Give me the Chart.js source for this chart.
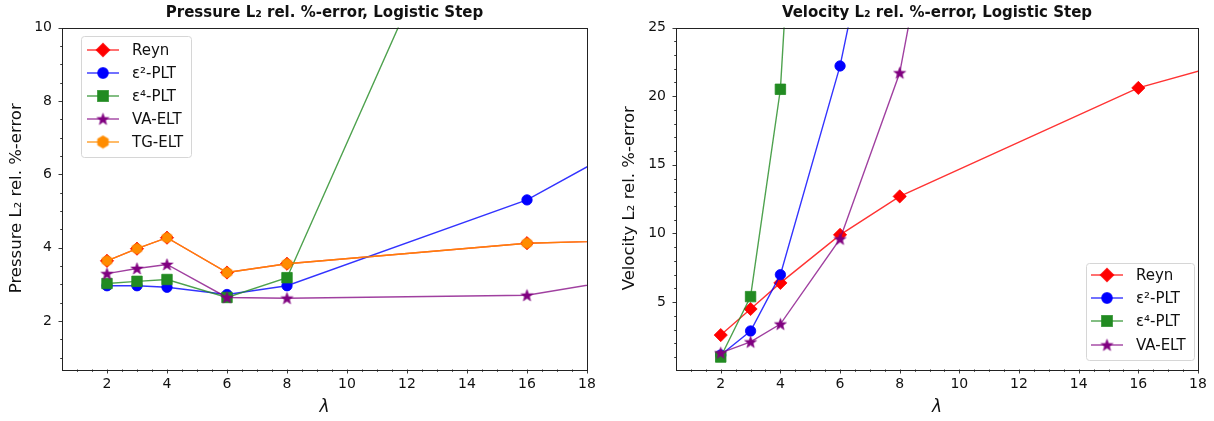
<!DOCTYPE html>
<html><head><meta charset="utf-8">
<script src="https://cdn.jsdelivr.net/npm/chart.js@4.4.0/dist/chart.umd.min.js"></script>
<style>
html,body{margin:0;padding:0;background:#fff;overflow:hidden;width:1214px;height:421px}
#cl{position:absolute;left:0;top:0}
#cr{position:absolute;left:600px;top:0}
</style></head><body>
<canvas id="cl" width="600" height="421"></canvas>
<canvas id="cr" width="614" height="421"></canvas>
<script>
// ---------- data ----------
const xTickLabels = [2, 4, 6, 8, 10, 12, 14, 16, 18];
const pYTicks = [2, 4, 6, 8, 10];
const vYTicks = [5, 10, 15, 20, 25];

// Pressure (left)
const pLamReyn = [2, 3, 4, 6, 8, 16, 32];
const pReyn    = [3.64, 3.97, 4.27, 3.32, 3.56, 4.12, 4.47];
const pLamE2   = [2, 3, 4, 6, 8, 16, 32];
const pE2      = [2.96, 2.96, 2.92, 2.72, 2.96, 5.30, 12.5];
const pLamE4   = [2, 3, 4, 6, 8, 16];
const pE4      = [3.02, 3.08, 3.13, 2.64, 3.18, 17.9];
const pLamVA   = [2, 3, 4, 6, 8, 16, 32];
const pVA      = [3.29, 3.43, 3.54, 2.64, 2.62, 2.70, 4.87];
const pLamTG   = [2, 3, 4, 6, 8, 16, 32];
const pTG      = [3.64, 3.97, 4.27, 3.32, 3.56, 4.12, 4.47];

// Velocity (right)
const vLamReyn = [2, 3, 4, 6, 8, 16, 32];
const vReyn    = [2.6, 4.5, 6.4, 9.9, 12.7, 20.6, 30.3];
const vLamE2   = [2, 3, 4, 6, 8];
const vE2      = [1.15, 2.9, 7.0, 22.2, 43.1];
const vLamE4   = [2, 3, 4, 6];
const vE4      = [1.0, 5.4, 20.5, 94];
const vLamVA   = [2, 3, 4, 6, 8, 16];
const vVA      = [1.3, 2.1, 3.4, 9.6, 21.7, 114];

// ---------- styling helpers ----------
const FONT = 'DejaVu Sans';
const C = {
  red:    {line: 'rgba(255,0,0,0.8)',    fill: '#ff0000'},
  blue:   {line: 'rgba(0,0,255,0.8)',    fill: '#0000ff'},
  green:  {line: 'rgba(34,139,34,0.8)',  fill: '#228b22'},
  purple: {line: 'rgba(128,0,128,0.75)', fill: '#800080'},
  orange: {line: 'rgba(255,140,0,0.85)', fill: '#ff8c00'}
};

function makeStar(fill, stroke) {
  const s = 15, c = document.createElement('canvas');
  c.width = s; c.height = s;
  const g = c.getContext('2d');
  const R = 6.3, r = 2.6, cx = s / 2, cy = s / 2 + 0.5;
  g.beginPath();
  for (let i = 0; i < 10; i++) {
    const rad = (i % 2 === 0) ? R : r;
    const a = -Math.PI / 2 + i * Math.PI / 5;
    const px = cx + rad * Math.cos(a), py = cy + rad * Math.sin(a);
    i === 0 ? g.moveTo(px, py) : g.lineTo(px, py);
  }
  g.closePath();
  g.fillStyle = fill; g.fill();
  g.strokeStyle = stroke; g.lineWidth = 0.8; g.stroke();
  return c;
}
function makeHex(fill, stroke, R) {
  const s = 15, c = document.createElement('canvas');
  c.width = s; c.height = s;
  const g = c.getContext('2d');
  const cx = s / 2, cy = s / 2;
  g.beginPath();
  for (let i = 0; i < 6; i++) {
    const a = -Math.PI / 2 + i * Math.PI / 3;
    const px = cx + R * Math.cos(a), py = cy + R * Math.sin(a);
    i === 0 ? g.moveTo(px, py) : g.lineTo(px, py);
  }
  g.closePath();
  g.fillStyle = fill; g.fill();
  g.strokeStyle = stroke; g.lineWidth = 0.8; g.stroke();
  return c;
}
const starImg = makeStar(C.purple.fill, C.purple.line);
const hexImg = makeHex(C.orange.fill, C.orange.line, 5.6);
const hexLegendImg = makeHex(C.orange.fill, C.orange.line, 6.2);

const M = {
  reyn: {style: 'rectRot', radius: 6.6, col: C.red},
  e2:   {style: 'circle',  radius: 5.2, col: C.blue},
  e4:   {style: 'rect',    radius: 7.4, col: C.green},
  va:   {style: starImg,   radius: 6,   col: C.purple},
  tg:   {style: hexImg,    radius: 6,   col: C.orange}
};
const tgLegend = {style: hexLegendImg, radius: 6, col: C.orange};

function pts(xs, ys) { return xs.map((x, i) => ({x: x, y: ys[i]})); }
function ds(label, xs, ys, m, order) {
  return {
    label: label, data: pts(xs, ys), order: order,
    borderColor: m.col.line, borderWidth: 1.4,
    pointStyle: m.style, pointRadius: m.radius, pointHoverRadius: m.radius,
    pointBackgroundColor: m.col.fill, pointBorderColor: m.col.line, pointBorderWidth: 1,
    backgroundColor: m.col.fill, fill: false, tension: 0, clip: 0
  };
}

function legendPlugin(items, box, rows, lineX0, lineX1, textX) {
  return {
    id: 'customLegend',
    afterDatasetsDraw(chart) {
      const ctx = chart.ctx;
      ctx.save();
      const r = 3;
      ctx.beginPath();
      ctx.roundRect(box.x + 0.5, box.y + 0.5, box.w, box.h, r);
      ctx.fillStyle = 'rgba(255,255,255,0.85)';
      ctx.fill();
      ctx.strokeStyle = '#d6d6d6';
      ctx.lineWidth = 1;
      ctx.stroke();
      items.forEach((it, i) => {
        const y = rows[i];
        ctx.beginPath();
        ctx.moveTo(lineX0, y); ctx.lineTo(lineX1, y);
        ctx.strokeStyle = it.m.col.line; ctx.lineWidth = 1.4; ctx.stroke();
        ctx.fillStyle = it.m.col.fill; ctx.strokeStyle = it.m.col.line;
        Chart.helpers.drawPoint(ctx, {pointStyle: it.m.style, radius: it.m.radius, rotation: 0, borderWidth: 1}, (lineX0 + lineX1) / 2, y);
        ctx.fillStyle = '#111';
        ctx.font = '15px "' + FONT + '"';
        ctx.textBaseline = 'middle';
        ctx.textAlign = 'left';
        ctx.fillText(it.label, textX, y + 1);
      });
      ctx.restore();
    }
  };
}

function framePlugin(yMajors, yMinorStep, yMinorStart, yMax) {
  return {
    id: 'frameTicks',
    afterDraw(chart) {
      const {ctx, chartArea: a, scales: {x, y}} = chart;
      ctx.save();
      ctx.strokeStyle = '#222';
      ctx.lineWidth = 1;
      ctx.strokeRect(Math.round(a.left) + 0.5, Math.round(a.top) + 0.5,
                     Math.round(a.right - a.left), Math.round(a.bottom - a.top));
      ctx.lineWidth = 0.9;
      ctx.beginPath();
      const bY = Math.round(a.bottom) + 0.5, lX = Math.round(a.left) + 0.5;
      for (let v = 1; v <= 18.001; v += 0.5) {
        const px = Math.round(x.getPixelForValue(v)) + 0.5;
        const major = xTickLabels.includes(v);
        ctx.moveTo(px, bY); ctx.lineTo(px, bY + (major ? 4 : 2.3));
      }
      for (let v = yMinorStart; v <= yMax + 1e-6; v += yMinorStep) {
        const py = Math.round(y.getPixelForValue(v)) + 0.5;
        const major = yMajors.some(t => Math.abs(t - v) < 1e-6);
        ctx.moveTo(lX, py); ctx.lineTo(lX - (major ? 4 : 2.3), py);
      }
      ctx.stroke();
      ctx.restore();
    }
  };
}

function makeChart(id, cfg) {
  return new Chart(document.getElementById(id), {
    type: 'line',
    data: {datasets: cfg.datasets},
    options: {
      responsive: false, animation: false, events: [],
      layout: {padding: {left: 0, right: cfg.padRight, top: 0, bottom: 0}},
      plugins: {
        legend: {display: false}, tooltip: {enabled: false},
        title: {
          display: true, text: cfg.title, fullSize: false, color: '#111',
          font: {family: FONT, size: 15, weight: 'bold'},
          padding: {top: 4.5, bottom: 5}
        }
      },
      scales: {
        x: {
          type: 'linear', min: 0.5, max: 18,
          afterBuildTicks: s => { s.ticks = xTickLabels.map(v => ({value: v})); },
          afterFit: s => { s.height = 52; },
          grid: {display: false, drawTicks: true, tickLength: 4},
          border: {display: false},
          ticks: {color: '#111', font: {family: FONT, size: 14}, padding: 3, autoSkip: false, maxRotation: 0},
          title: {display: true, text: 'λ', color: '#111', font: {family: FONT, size: 17, style: 'italic'}, padding: {top: 0, bottom: 3}}
        },
        y: {
          type: 'linear', min: cfg.yMin, max: cfg.yMax,
          afterBuildTicks: s => { s.ticks = cfg.yTicks.map(v => ({value: v})); },
          afterFit: s => { s.width = cfg.yWidth; },
          grid: {display: false, drawTicks: true, tickLength: 4},
          border: {display: false},
          ticks: {color: '#111', font: {family: FONT, size: 14}, padding: 6},
          title: {display: true, text: cfg.yTitle, color: '#111', font: {family: FONT, size: 16.5}, padding: {top: cfg.yTitlePad, bottom: 0}}
        }
      }
    },
    plugins: [framePlugin(cfg.yTicks, cfg.yMinorStep, cfg.yMinorStart, cfg.yMax), cfg.legend]
  });
}

makeChart('cl', {
  title: 'Pressure L₂ rel. %-error, Logistic Step',
  yTitle: 'Pressure L₂ rel. %-error',
  yMin: 0.69, yMax: 10, yTicks: pYTicks, yMinorStep: 0.5, yMinorStart: 1,
  yWidth: 62, yTitlePad: 7, padRight: 13,
  datasets: [
    ds('Reyn', pLamReyn, pReyn, M.reyn, 5),
    ds('ε²-PLT', pLamE2, pE2, M.e2, 4),
    ds('ε⁴-PLT', pLamE4, pE4, M.e4, 3),
    ds('VA-ELT', pLamVA, pVA, M.va, 2),
    ds('TG-ELT', pLamTG, pTG, M.tg, 1)
  ],
  legend: legendPlugin([
    {label: 'Reyn', m: M.reyn}, {label: 'ε²-PLT', m: M.e2}, {label: 'ε⁴-PLT', m: M.e4},
    {label: 'VA-ELT', m: M.va}, {label: 'TG-ELT', m: tgLegend}
  ], {x: 81, y: 36, w: 110, h: 121}, [50, 73, 96, 119, 142], 87, 119, 132)
});

makeChart('cr', {
  title: 'Velocity L₂ rel. %-error, Logistic Step',
  yTitle: 'Velocity L₂ rel. %-error',
  yMin: 0.13, yMax: 25, yTicks: vYTicks, yMinorStep: 1, yMinorStart: 1,
  yWidth: 76, yTitlePad: 20, padRight: 16,
  datasets: [
    ds('Reyn', vLamReyn, vReyn, M.reyn, 4),
    ds('ε²-PLT', vLamE2, vE2, M.e2, 3),
    ds('ε⁴-PLT', vLamE4, vE4, M.e4, 2),
    ds('VA-ELT', vLamVA, vVA, M.va, 1)
  ],
  legend: legendPlugin([
    {label: 'Reyn', m: M.reyn}, {label: 'ε²-PLT', m: M.e2}, {label: 'ε⁴-PLT', m: M.e4},
    {label: 'VA-ELT', m: M.va}
  ], {x: 486, y: 263, w: 108, h: 97}, [275, 298, 321, 345], 491, 523, 536)
});
</script>
</body></html>
